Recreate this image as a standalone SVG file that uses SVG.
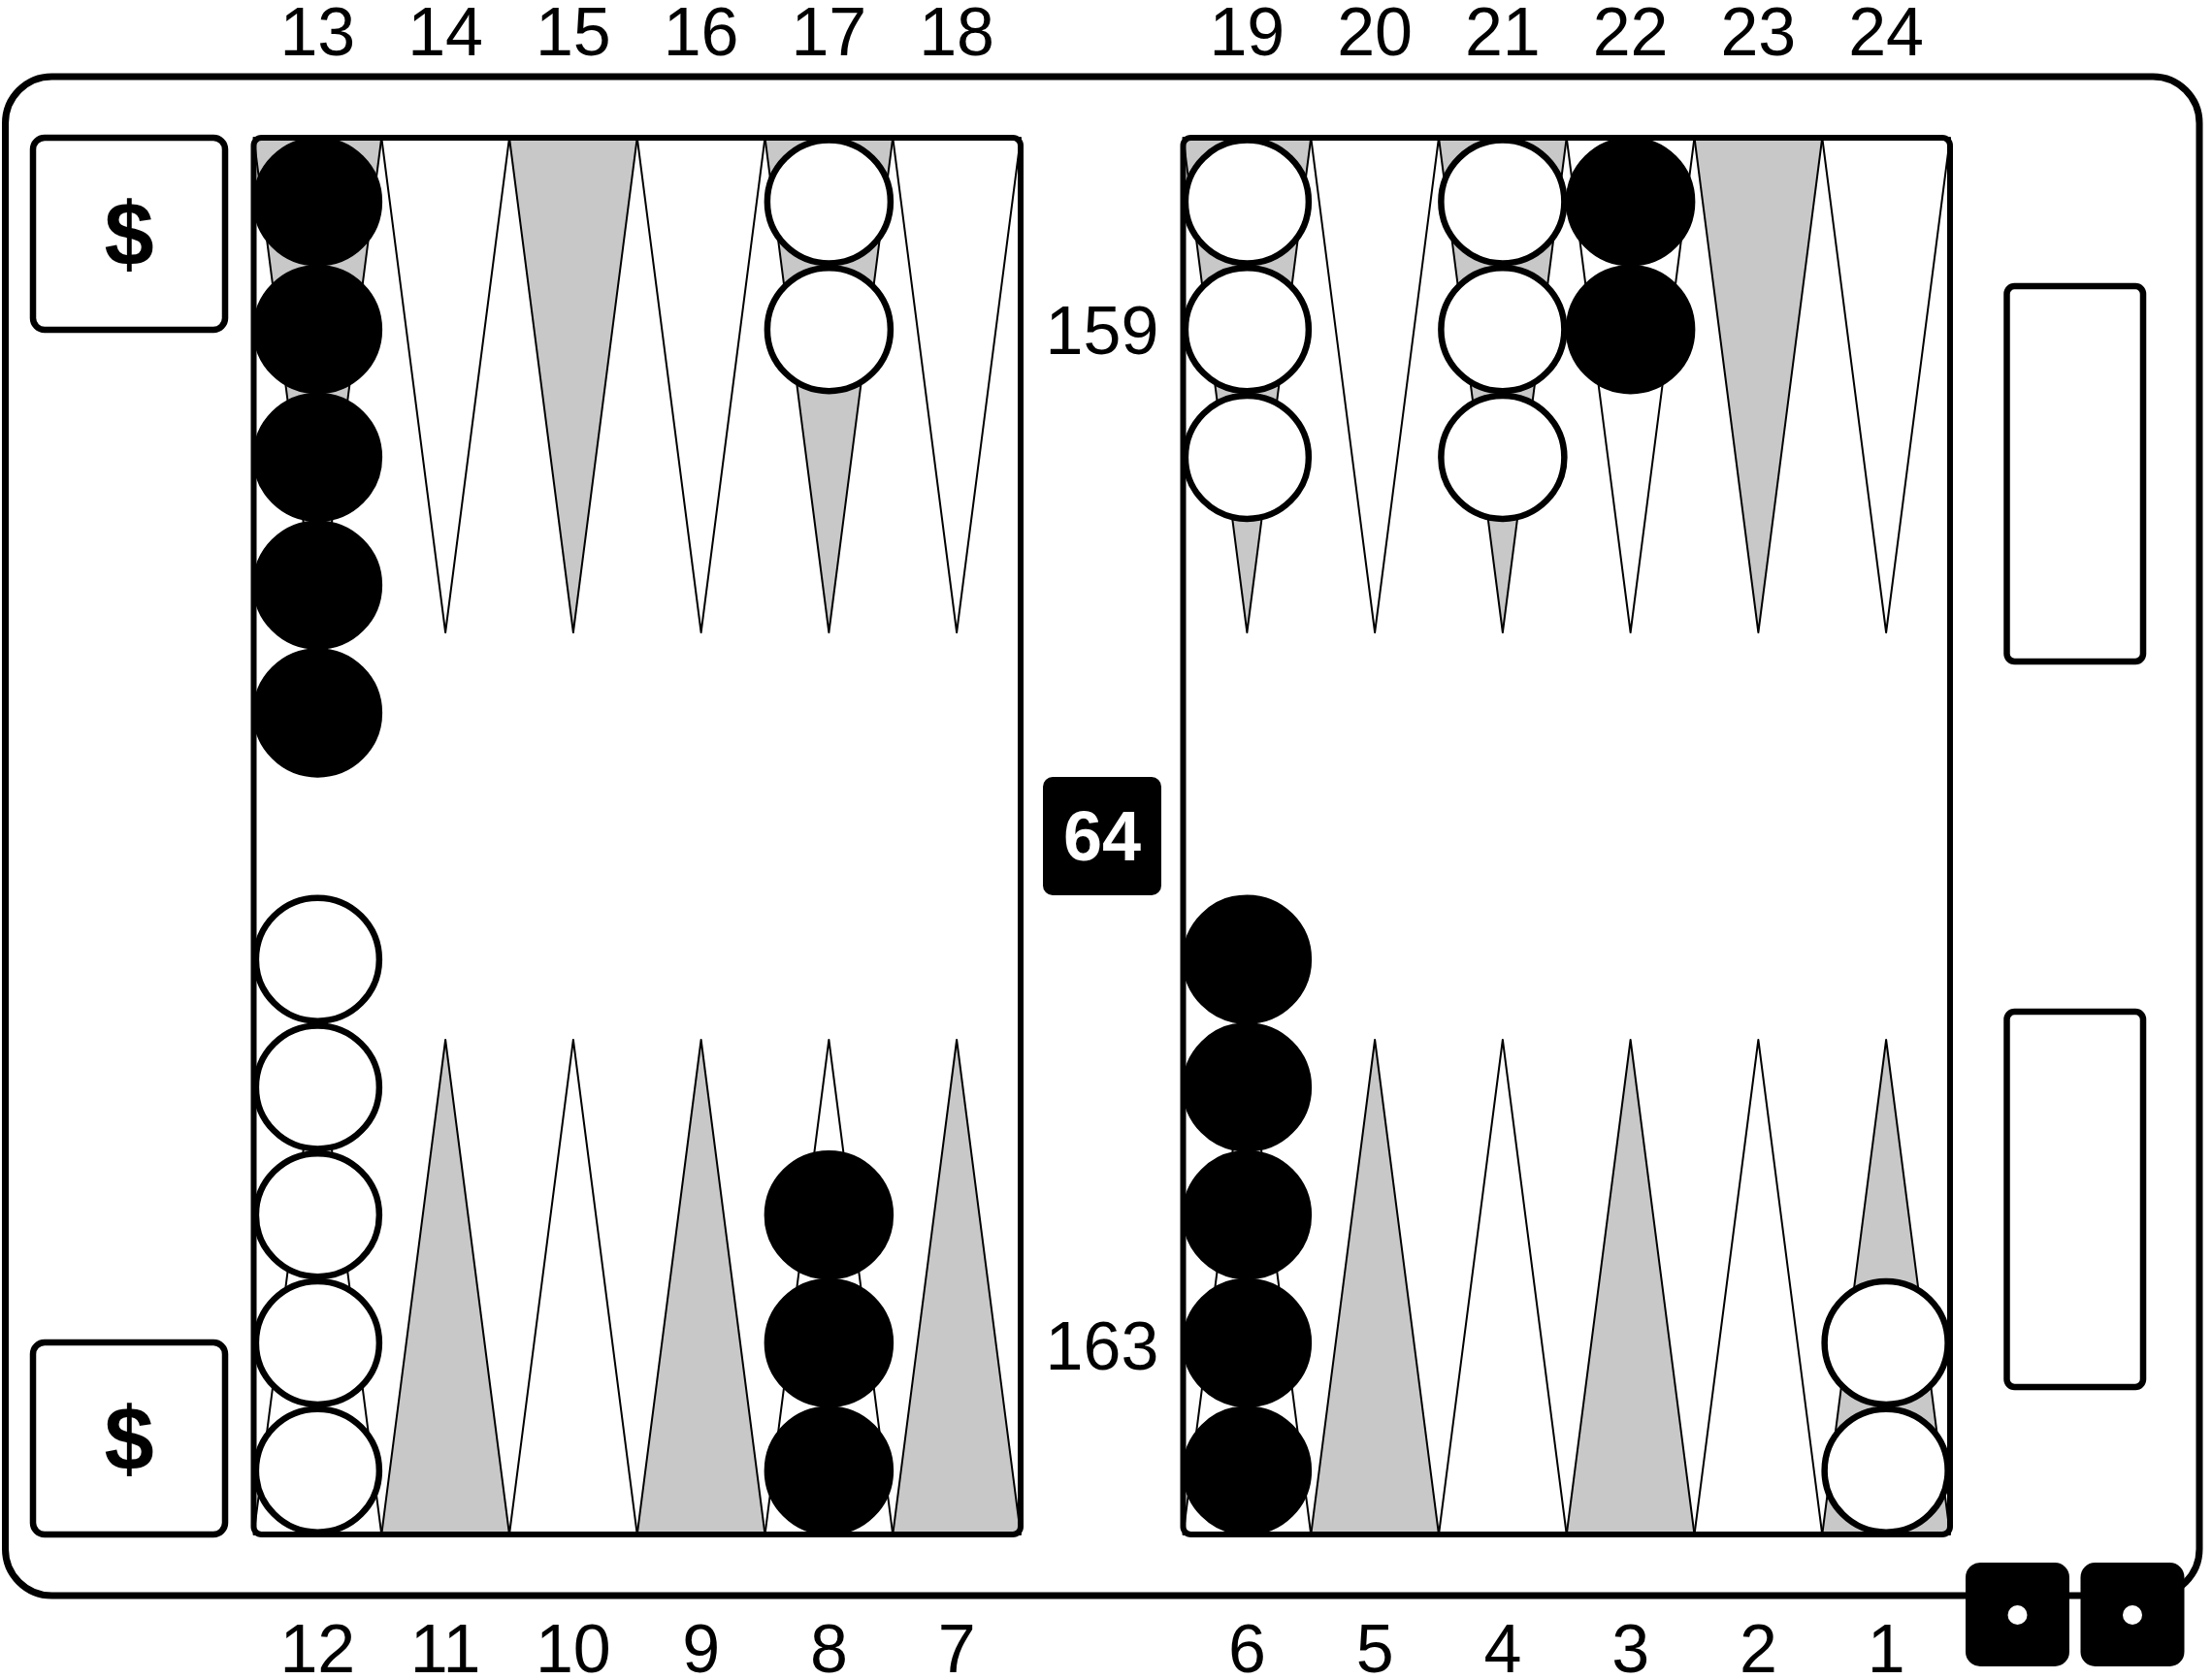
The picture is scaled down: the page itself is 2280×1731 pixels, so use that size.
<svg xmlns="http://www.w3.org/2000/svg" width="2280" height="1731" viewBox="0 0 2280 1731">
<style>
.frame{fill:#fff;stroke:#000;stroke-width:7}
.box{fill:#fff;stroke:#000;stroke-width:6.5}
.bd{fill:none;stroke:#000;stroke-width:6}
.g{fill:#c8c8c8;stroke:#000;stroke-width:2;stroke-linejoin:round}
.w{fill:#fff;stroke:#000;stroke-width:2;stroke-linejoin:round}
.cw{fill:#fff;stroke:#000;stroke-width:6.5}
.cb{fill:#000;stroke:#000;stroke-width:6.5}
.lbl{font-family:"Liberation Sans",Arial,sans-serif;font-size:70px;fill:#000;text-anchor:middle}
.bold{font-family:"Liberation Sans",Arial,sans-serif;font-weight:bold;text-anchor:middle}
.die{fill:#000}
.pip{fill:#fff}
</style>
<rect id="frame" class="frame" x="5.5" y="79" width="2261.5" height="1566" rx="48"/>
<g id="cube-top"><rect class="box" x="34" y="142" width="198" height="198" rx="12"/><text class="bold" x="133" y="273" font-size="92">$</text></g>
<g id="cube-bottom"><rect class="box" x="34" y="1384" width="198" height="198" rx="12"/><text class="bold" x="133" y="1515" font-size="92">$</text></g>
<g id="tray-top"><rect class="box" x="2068.5" y="295" width="140.5" height="387" rx="8"/></g>
<g id="tray-bottom"><rect class="box" x="2068.5" y="1043" width="140.5" height="387" rx="8"/></g>
<g id="board-left">
<rect x="261.5" y="142" width="790.5" height="1440" fill="#fff"/>
<polygon class="g" points="261.5,142 393.25,142 327.375,652"/>
<polygon class="w" points="393.25,142 525,142 459.125,652"/>
<polygon class="g" points="525,142 656.75,142 590.875,652"/>
<polygon class="w" points="656.75,142 788.5,142 722.625,652"/>
<polygon class="g" points="788.5,142 920.25,142 854.375,652"/>
<polygon class="w" points="920.25,142 1052,142 986.125,652"/>
<polygon class="w" points="261.5,1582 393.25,1582 327.375,1072"/>
<polygon class="g" points="393.25,1582 525,1582 459.125,1072"/>
<polygon class="w" points="525,1582 656.75,1582 590.875,1072"/>
<polygon class="g" points="656.75,1582 788.5,1582 722.625,1072"/>
<polygon class="w" points="788.5,1582 920.25,1582 854.375,1072"/>
<polygon class="g" points="920.25,1582 1052,1582 986.125,1072"/>
<rect class="bd" x="261.5" y="142" width="790.5" height="1440" rx="8"/>
</g>
<g id="board-right">
<rect x="1219.5" y="142" width="790.5" height="1440" fill="#fff"/>
<polygon class="g" points="1219.5,142 1351.25,142 1285.375,652"/>
<polygon class="w" points="1351.25,142 1483,142 1417.125,652"/>
<polygon class="g" points="1483,142 1614.75,142 1548.875,652"/>
<polygon class="w" points="1614.75,142 1746.5,142 1680.625,652"/>
<polygon class="g" points="1746.5,142 1878.25,142 1812.375,652"/>
<polygon class="w" points="1878.25,142 2010,142 1944.125,652"/>
<polygon class="w" points="1219.5,1582 1351.25,1582 1285.375,1072"/>
<polygon class="g" points="1351.25,1582 1483,1582 1417.125,1072"/>
<polygon class="w" points="1483,1582 1614.75,1582 1548.875,1072"/>
<polygon class="g" points="1614.75,1582 1746.5,1582 1680.625,1072"/>
<polygon class="w" points="1746.5,1582 1878.25,1582 1812.375,1072"/>
<polygon class="g" points="1878.25,1582 2010,1582 1944.125,1072"/>
<rect class="bd" x="1219.5" y="142" width="790.5" height="1440" rx="8"/>
</g>
<g id="checkers">
<g id="pt13"><circle class="cb" cx="327.375" cy="207.875" r="63.5"/><circle class="cb" cx="327.375" cy="339.625" r="63.5"/><circle class="cb" cx="327.375" cy="471.375" r="63.5"/><circle class="cb" cx="327.375" cy="603.125" r="63.5"/><circle class="cb" cx="327.375" cy="734.875" r="63.5"/></g>
<g id="pt17"><circle class="cw" cx="854.375" cy="207.875" r="63.5"/><circle class="cw" cx="854.375" cy="339.625" r="63.5"/></g>
<g id="pt19"><circle class="cw" cx="1285.375" cy="207.875" r="63.5"/><circle class="cw" cx="1285.375" cy="339.625" r="63.5"/><circle class="cw" cx="1285.375" cy="471.375" r="63.5"/></g>
<g id="pt21"><circle class="cw" cx="1548.875" cy="207.875" r="63.5"/><circle class="cw" cx="1548.875" cy="339.625" r="63.5"/><circle class="cw" cx="1548.875" cy="471.375" r="63.5"/></g>
<g id="pt22"><circle class="cb" cx="1680.625" cy="207.875" r="63.5"/><circle class="cb" cx="1680.625" cy="339.625" r="63.5"/></g>
<g id="pt12"><circle class="cw" cx="327.375" cy="1516.125" r="63.5"/><circle class="cw" cx="327.375" cy="1384.375" r="63.5"/><circle class="cw" cx="327.375" cy="1252.625" r="63.5"/><circle class="cw" cx="327.375" cy="1120.875" r="63.5"/><circle class="cw" cx="327.375" cy="989.125" r="63.5"/></g>
<g id="pt8"><circle class="cb" cx="854.375" cy="1516.125" r="63.5"/><circle class="cb" cx="854.375" cy="1384.375" r="63.5"/><circle class="cb" cx="854.375" cy="1252.625" r="63.5"/></g>
<g id="pt6"><circle class="cb" cx="1285.375" cy="1516.125" r="63.5"/><circle class="cb" cx="1285.375" cy="1384.375" r="63.5"/><circle class="cb" cx="1285.375" cy="1252.625" r="63.5"/><circle class="cb" cx="1285.375" cy="1120.875" r="63.5"/><circle class="cb" cx="1285.375" cy="989.125" r="63.5"/></g>
<g id="pt1"><circle class="cw" cx="1944.125" cy="1516.125" r="63.5"/><circle class="cw" cx="1944.125" cy="1384.375" r="63.5"/></g>
</g>
<g id="pipcounts">
<text class="lbl" x="1136" y="365">159</text>
<text class="lbl" x="1136" y="1412">163</text>
</g>
<g id="doubling-cube"><rect x="1075" y="801" width="122" height="122" rx="10" fill="#000"/><text class="bold" x="1136" y="887" font-size="72" fill="#fff">64</text></g>
<g id="dice">
<g id="die1"><rect class="die" x="2026" y="1611" width="107" height="107" rx="15"/><circle class="pip" cx="2079.5" cy="1665" r="10"/></g>
<g id="die2"><rect class="die" x="2144.5" y="1611" width="107" height="107" rx="15"/><circle class="pip" cx="2198" cy="1665" r="10"/></g>
</g>
<g id="labels">
<text class="lbl" x="327.375" y="57">13</text>
<text class="lbl" x="459.125" y="57">14</text>
<text class="lbl" x="590.875" y="57">15</text>
<text class="lbl" x="722.625" y="57">16</text>
<text class="lbl" x="854.375" y="57">17</text>
<text class="lbl" x="986.125" y="57">18</text>
<text class="lbl" x="1285.375" y="57">19</text>
<text class="lbl" x="1417.125" y="57">20</text>
<text class="lbl" x="1548.875" y="57">21</text>
<text class="lbl" x="1680.625" y="57">22</text>
<text class="lbl" x="1812.375" y="57">23</text>
<text class="lbl" x="1944.125" y="57">24</text>
<text class="lbl" x="327.375" y="1724">12</text>
<text class="lbl" x="459.125" y="1724">11</text>
<text class="lbl" x="590.875" y="1724">10</text>
<text class="lbl" x="722.625" y="1724">9</text>
<text class="lbl" x="854.375" y="1724">8</text>
<text class="lbl" x="986.125" y="1724">7</text>
<text class="lbl" x="1285.375" y="1724">6</text>
<text class="lbl" x="1417.125" y="1724">5</text>
<text class="lbl" x="1548.875" y="1724">4</text>
<text class="lbl" x="1680.625" y="1724">3</text>
<text class="lbl" x="1812.375" y="1724">2</text>
<text class="lbl" x="1944.125" y="1724">1</text>
</g>
</svg>
